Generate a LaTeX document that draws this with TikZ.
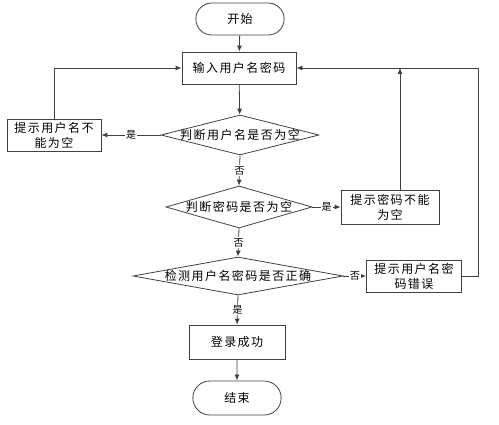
\documentclass[tikz,border=0pt]{standalone}
\usepackage{fontspec}
\newfontfamily\cjk[LetterSpace=12]{Noto Sans CJK SC}
\usetikzlibrary{shapes.geometric,shapes.misc,arrows.meta}
\newcommand{\difftext}[1]{\makebox[0pt]{#1}}

\begin{document}
\begin{tikzpicture}[x=1pt,y=-1pt,line width=0.8pt,
  >={Latex[length=6pt,width=5pt]},
  term/.style={rounded rectangle, draw=black!75, minimum width=95pt, minimum height=32pt, font=\cjk\fontsize{12}{14}\selectfont},
  proc/.style={rectangle, draw=black!75, align=center, inner sep=1pt, font=\cjk\fontsize{12}{15}\selectfont},
  test/.style={diamond, draw=black!75, inner sep=0pt, font=\cjk\fontsize{12}{14}\selectfont},
  tag/.style={fill=white, inner sep=1pt, font=\cjk\fontsize{10}{12}\selectfont},
  link/.style={draw=black!75}]
\useasboundingbox (0,0) rectangle (499,425);

\node[term] (start) at (240,19) {开始};
\node[proc, minimum width=114pt, minimum height=32pt] (input) at (239,68) {输入用户名密码};
\node[test, minimum width=158pt, minimum height=40pt] (d1) at (240,135) {\difftext{判断用户名是否为空}};
\node[proc, minimum width=94pt, minimum height=32pt] (lbox) at (54,135) {提示用户名不\\能为空};
\node[test, minimum width=146pt, minimum height=42pt] (d2) at (239,207) {\difftext{判断密码是否为空}};
\node[proc, minimum width=98pt, minimum height=34pt] (pbox) at (390,207) {提示密码不能\\为空};
\node[test, minimum width=210pt, minimum height=38pt] (d3) at (238,276) {\difftext{检测用户名密码是否正确}};
\node[proc, minimum width=95pt, minimum height=32pt] (ebox) at (414,276) {提示用户名密\\码错误};
\node[proc, minimum width=96pt, minimum height=34pt] (ok) at (237,342) {登录成功};
\node[term, minimum height=34pt] (end) at (237,398) {结束};
\coordinate (join) at ([xshift=10pt]pbox.north |- input.east);

\draw[link,->] (start) -- (input);
\draw[link,->] (input) -- (d1);
\draw[link,->] (d1.west) -- node[tag]{是} (lbox.east);
\draw[link,->] (lbox.north) |- (input.west);
\draw[link,->] (d1.south) -- node[tag]{否} (d2.north);
\draw[link,->] (d2.east) -- node[tag]{是} (pbox.west);
\draw[link,->] ([xshift=10pt]pbox.north) -- (join);
\draw[link,->] (d2.south) -- node[tag]{否} (d3.north);
\draw[link,->] (d3.east) -- node[tag]{否} (ebox.west);
\draw[link,->] (ebox.east) -- ++(16,0) |- (input.east);
\draw[link,->] (d3.south) -- node[tag]{是} (ok.north);
\draw[link,->] (ok) -- (end);
\end{tikzpicture}
\end{document}
